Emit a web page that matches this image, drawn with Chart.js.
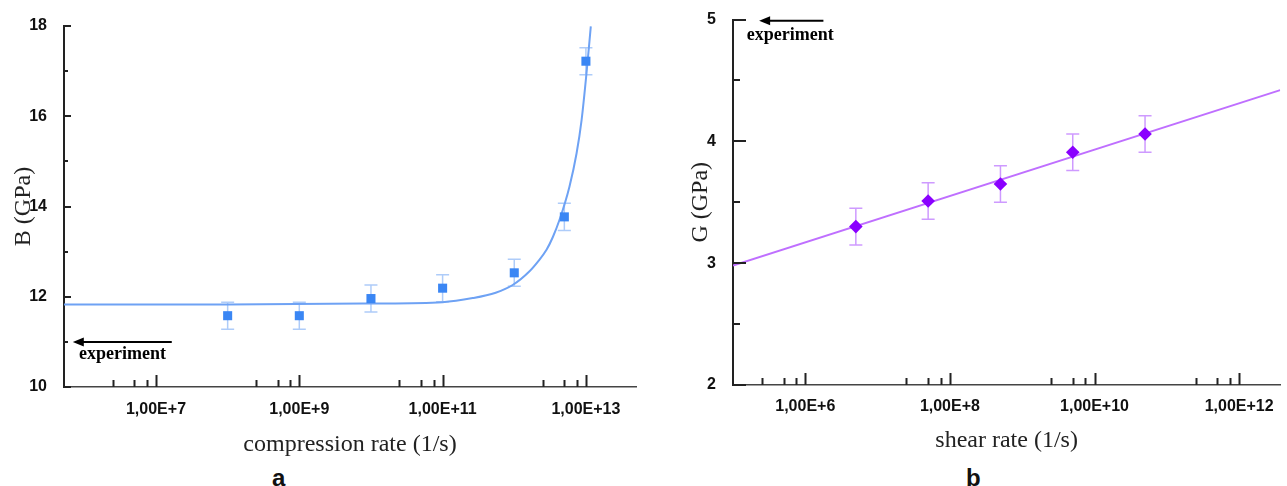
<!DOCTYPE html>
<html>
<head>
<meta charset="utf-8">
<script src="https://cdn.jsdelivr.net/npm/chart.js@4.4.1/dist/chart.umd.min.js"></script>
<style>
  body { margin: 0; background: #fff; width: 1287px; height: 486px; overflow: hidden; position: relative; }
  .box { position: absolute; top: 0; height: 462px; }
  .tag { position: absolute; top: 464px; line-height: 24px; font: bold 24px "Liberation Sans", Arial, sans-serif; color: #111; }
</style>
</head>
<body>
<div class="box" style="left:0;width:650px"><canvas id="chartA"></canvas></div>
<div class="box" style="left:660px;width:627px"><canvas id="chartB"></canvas></div>
<div class="tag" style="left:272px">a</div>
<div class="tag" style="left:966px">b</div>
<script>
// panel a: bulk modulus vs compression rate
const rateA = [1e8, 1e9, 1e10, 1e11, 1e12, 5e12, 1e13];
const bulkA = [11.58, 11.58, 11.96, 12.19, 12.53, 13.77, 17.22];
const bulkErrA = [0.3, 0.3, 0.3, 0.3, 0.3, 0.3, 0.3];
const fitRateA = [5.2e5, 1e8, 1e10, 1e11, 2.63e11, 5.5e11, 9.5e11, 1.62e12, 2.14e12, 2.82e12, 3.47e12, 4.27e12, 5.89e12, 7.41e12, 8.71e12, 1.03e13, 1.17e13];
const fitBulkA = [11.83, 11.83, 11.85, 11.88, 11.97, 12.09, 12.26, 12.56, 12.78, 13.04, 13.33, 13.70, 14.44, 15.18, 15.92, 17.03, 17.99];
const tickRateA = [1e7, 1e9, 1e11, 1e13];
const tickRateLabelA = ['1,00E+7', '1,00E+9', '1,00E+11', '1,00E+13'];
const tickBulkA = [10, 12, 14, 16, 18];
const minorBulkA = [11, 13, 15, 17];

// panel b: shear modulus vs shear rate
const rateB = [5e6, 5e7, 5e8, 5e9, 5e10];
const shearB = [3.30, 3.51, 3.65, 3.91, 4.06];
const shearErrB = [0.15, 0.15, 0.15, 0.15, 0.15];
const fitRateB = [1e5, 3.7e12];
const fitShearB = [2.98, 4.42];
const tickRateB = [1e6, 1e8, 1e10, 1e12];
const tickRateLabelB = ['1,00E+6', '1,00E+8', '1,00E+10', '1,00E+12'];
const tickShearB = [2, 3, 4, 5];
const minorShearB = [2.5, 3.5, 4.5];

Chart.defaults.font.family = '"Liberation Sans", Arial, sans-serif';
Chart.defaults.animation = false;

const pts = (xs, ys) => xs.map((x, i) => ({x: x, y: ys[i]}));
const minorsOf = majors => majors.flatMap(m => [0.25 * m, 0.5 * m, 0.75 * m]);

// error bars behind markers, inward ticks and the "experiment" arrow on top
const axisDecor = {
  id: 'axisDecor',
  beforeDatasetsDraw(chart) {
    const ctx = chart.ctx, sx = chart.scales.x, sy = chart.scales.y;
    chart.data.datasets.forEach(ds => {
      if (!ds.errors) return;
      ctx.save();
      ctx.strokeStyle = ds.errorColor;
      ctx.lineWidth = 1.5;
      ds.data.forEach((p, i) => {
        const x = sx.getPixelForValue(p.x);
        const y1 = sy.getPixelForValue(p.y + ds.errors[i]);
        const y2 = sy.getPixelForValue(p.y - ds.errors[i]);
        ctx.beginPath();
        ctx.moveTo(x, y1); ctx.lineTo(x, y2);
        ctx.moveTo(x - 6.5, y1); ctx.lineTo(x + 6.5, y1);
        ctx.moveTo(x - 6.5, y2); ctx.lineTo(x + 6.5, y2);
        ctx.stroke();
      });
      ctx.restore();
    });
  },
  afterDraw(chart, args, o) {
    const ctx = chart.ctx, sx = chart.scales.x, sy = chart.scales.y;
    const area = chart.chartArea;
    ctx.save();
    ctx.strokeStyle = '#222';
    ctx.lineWidth = 2;
    ctx.beginPath();
    o.xMajor.forEach(v => {
      const x = Math.round(sx.getPixelForValue(v)) + 0.5;
      ctx.moveTo(x, area.bottom); ctx.lineTo(x, area.bottom - o.xMajorLen);
    });
    minorsOf(o.xMajor).forEach(v => {
      const x = Math.round(sx.getPixelForValue(v)) + 0.5;
      ctx.moveTo(x, area.bottom); ctx.lineTo(x, area.bottom - o.xMinorLen);
    });
    o.yMajor.forEach(v => {
      const y = Math.round(sy.getPixelForValue(v));
      ctx.moveTo(area.left, y); ctx.lineTo(area.left + o.yMajorLen, y);
    });
    o.yMinor.forEach(v => {
      const y = Math.round(sy.getPixelForValue(v));
      ctx.moveTo(area.left, y); ctx.lineTo(area.left + o.yMinorLen, y);
    });
    ctx.stroke();

    // arrow pointing towards the experimental rates
    const a = o.arrow;
    const ay = sy.getPixelForValue(a.y);
    const ax1 = sx.getPixelForValue(a.x1), ax2 = sx.getPixelForValue(a.x2);
    ctx.strokeStyle = '#000';
    ctx.fillStyle = '#000';
    ctx.lineWidth = 2;
    ctx.beginPath();
    ctx.moveTo(ax1, ay); ctx.lineTo(ax2 + 8, ay);
    ctx.stroke();
    ctx.beginPath();
    ctx.moveTo(ax2, ay); ctx.lineTo(ax2 + 11, ay - 4.5); ctx.lineTo(ax2 + 11, ay + 4.5);
    ctx.closePath();
    ctx.fill();
    ctx.font = 'bold 18px "Liberation Serif", "Times New Roman", serif';
    ctx.textAlign = 'center';
    ctx.textBaseline = 'middle';
    ctx.fillText(a.text, sx.getPixelForValue(a.tx), sy.getPixelForValue(a.ty));
    ctx.restore();
  }
};

function makeScales(cfg) {
  return {
    x: {
      type: 'logarithmic', min: cfg.xMin, max: cfg.xMax,
      afterBuildTicks: s => { s.ticks = cfg.xTicks.map(v => ({value: v})); },
      afterFit: s => { s.height = cfg.xHeight; },
      grid: {display: false},
      border: {display: true, color: '#444', width: 1.5},
      ticks: {
        autoSkip: false, maxRotation: 0, padding: cfg.xTickPad, color: '#111',
        font: {size: 16, weight: 'bold'},
        callback: (v, i) => cfg.xLabels[i]
      },
      title: {
        display: true, text: cfg.xTitle, color: '#222',
        font: {family: '"Liberation Serif", "Times New Roman", serif', size: 24},
        padding: {top: 0, bottom: cfg.xTitlePad}
      }
    },
    y: {
      type: 'linear', min: cfg.yMin, max: cfg.yMax,
      afterBuildTicks: s => { s.ticks = cfg.yTicks.map(v => ({value: v})); },
      afterFit: s => { s.width = cfg.yWidth; },
      grid: {display: false},
      border: {display: true, color: '#222', width: 2},
      ticks: {padding: 9, color: '#111', font: {size: 16, weight: 'bold'}, callback: v => String(v)},
      title: {
        display: true, text: cfg.yTitle, color: '#222',
        font: {family: '"Liberation Serif", "Times New Roman", serif', size: 24},
        padding: {top: cfg.yTitlePad, bottom: 0}
      }
    }
  };
}

new Chart(document.getElementById('chartA'), {
  type: 'scatter',
  data: {
    datasets: [{
      label: 'B',
      data: pts(rateA, bulkA),
      errors: bulkErrA,
      errorColor: 'rgba(120, 170, 245, 0.6)',
      pointStyle: 'rect',
      pointRadius: 6.4,
      backgroundColor: '#3a86f4',
      borderWidth: 0,
      order: 0
    }, {
      label: 'fit',
      data: pts(fitRateA, fitBulkA),
      showLine: true,
      pointRadius: 0,
      borderColor: '#6ea2f4',
      borderWidth: 2,
      cubicInterpolationMode: 'monotone',
      order: 1
    }]
  },
  options: {
    responsive: true,
    maintainAspectRatio: false,
    layout: {padding: {top: 26, right: 14, left: 0, bottom: 0}},
    scales: makeScales({
      xMin: 5.2e5, xMax: 5.0e13, xTicks: tickRateA, xLabels: tickRateLabelA, xHeight: 75,
      xTickPad: 5, xTitle: 'compression rate (1/s)', xTitlePad: 3,
      yMin: 10, yMax: 18, yTicks: tickBulkA, yWidth: 64, yTitle: 'B (GPa)', yTitlePad: 9
    }),
    plugins: {
      legend: {display: false},
      tooltip: {enabled: false},
      axisDecor: {
        xMajor: tickRateA, yMajor: tickBulkA, yMinor: minorBulkA,
        xMajorLen: 12, xMinorLen: 7, yMajorLen: 7, yMinorLen: 4,
        arrow: {y: 11, x1: 1.66e7, x2: 6.9e5, tx: 3.4e6, ty: 10.73, text: 'experiment'}
      }
    }
  },
  plugins: [axisDecor]
});

new Chart(document.getElementById('chartB'), {
  type: 'scatter',
  data: {
    datasets: [{
      label: 'G',
      data: pts(rateB, shearB),
      errors: shearErrB,
      errorColor: 'rgba(190, 120, 255, 0.75)',
      pointStyle: 'rectRot',
      pointRadius: 6.8,
      backgroundColor: '#8a00ff',
      borderWidth: 0,
      order: 0
    }, {
      label: 'fit',
      data: pts(fitRateB, fitShearB),
      showLine: true,
      pointRadius: 0,
      borderColor: '#bf6fff',
      borderWidth: 2,
      order: 1
    }]
  },
  options: {
    responsive: true,
    maintainAspectRatio: false,
    layout: {padding: {top: 19.5, right: 0, left: 0, bottom: 0}},
    scales: makeScales({
      xMin: 1e5, xMax: 3.7e12, xTicks: tickRateB, xLabels: tickRateLabelB, xHeight: 77,
      xTickPad: 4, xTitle: 'shear rate (1/s)', xTitlePad: 7,
      yMin: 2, yMax: 5, yTicks: tickShearB, yWidth: 73, yTitle: 'G (GPa)', yTitlePad: 26
    }),
    plugins: {
      legend: {display: false},
      tooltip: {enabled: false},
      axisDecor: {
        xMajor: tickRateB, yMajor: tickShearB, yMinor: minorShearB,
        xMajorLen: 12, xMinorLen: 7, yMajorLen: 13, yMinorLen: 7,
        arrow: {y: 4.99, x1: 1.78e6, x2: 2.3e5, tx: 6.2e5, ty: 4.87, text: 'experiment'}
      }
    }
  },
  plugins: [axisDecor]
});
</script>
</body>
</html>
